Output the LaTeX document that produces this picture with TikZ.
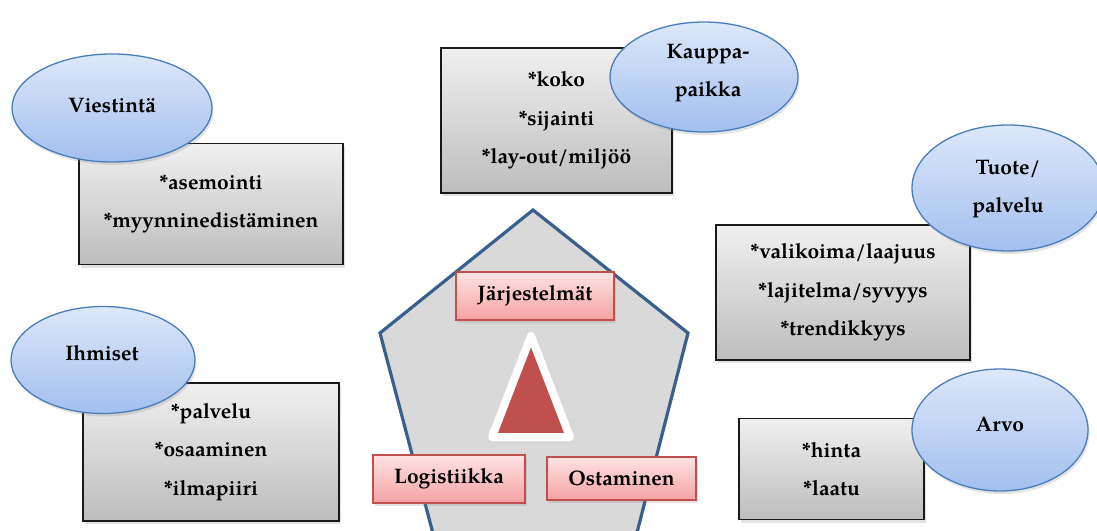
\documentclass[tikz,border=0pt]{standalone}
\usepackage{fontspec}
\setmainfont{TeX Gyre Pagella}
\usetikzlibrary{shapes.geometric,shadows}

\definecolor{ellEdge}{HTML}{4A7EBB}
\definecolor{ellTop}{HTML}{DDE8FA}
\definecolor{ellBot}{HTML}{A2BFEE}
\definecolor{boxTop}{HTML}{F0F0F0}
\definecolor{boxBot}{HTML}{BDBDBD}
\definecolor{partEdge}{HTML}{C0504D}
\definecolor{partTop}{HTML}{FFE3E3}
\definecolor{partBot}{HTML}{F4A3A2}
\definecolor{pentFill}{HTML}{D9D9D9}
\definecolor{pentEdge}{HTML}{3B5F8C}
\definecolor{triRed}{HTML}{C0504D}

\tikzset{
  txt/.style={font=\fontsize{21}{38.5}\selectfont\bfseries, align=center, text=black},
  softshadow/.style={drop shadow={opacity=0.22, shadow xshift=1.5pt, shadow yshift=-3pt}},
  idea/.style={ellipse, draw=ellEdge, line width=1.3pt, top color=ellTop,
    bottom color=ellBot, softshadow, inner sep=0pt},
  itembox/.style={rectangle, draw=black!90, line width=1.6pt, top color=boxTop,
    bottom color=boxBot, softshadow, inner sep=0pt, txt},
  part/.style={rectangle, draw=partEdge, line width=1.5pt, top color=partTop,
    bottom color=partBot, softshadow, inner sep=0pt, txt},
  pentagonal/.style={draw=pentEdge, line width=3.2pt, fill=pentFill, line join=miter},
  core/.style={draw=white, line width=8pt, fill=triRed, line join=round},
}

\begin{document}
\begin{tikzpicture}[x=1pt, y=-1pt]
  \useasboundingbox (0,0) rectangle (1097,530);
  \clip (0,0) rectangle (1097,530);

  % central pentagon
  \coordinate (p1) at (533,210);
  \coordinate (p2) at (688,333);
  \coordinate (p3) at (630,560);
  \coordinate (p4) at (440,560);
  \coordinate (p5) at (380,333);
  \draw[pentagonal] (p1) -- (p2) -- (p3) -- (p4) -- (p5) -- cycle;

  % red triangle in the middle
  \coordinate (t1) at (531,336);
  \coordinate (t2) at (492,437);
  \coordinate (t3) at (570,437);
  \draw[core, drop shadow={opacity=0.15, shadow xshift=1pt, shadow yshift=-2pt}]
    (t1) -- (t2) -- (t3) -- cycle;

  % three parts inside the pentagon
  \node[part, minimum width=158, minimum height=48] (jarj) at (535,296) {Järjestelmät};
  \node[part, minimum width=152, minimum height=48] (logi) at (449,479) {Logistiikka};
  \node[part, minimum width=149, minimum height=43] (osta) at (621.5,478.5) {Ostaminen};

  % Viestintä
  \node[itembox, minimum width=264, minimum height=121] (viesBox) at (211,204)
    {*asemointi\\*myynninedistäminen};
  \node[idea, minimum width=200, minimum height=108] (viesEll) at (112,108) {};
  \node[txt] (viesLbl) at (112,106) {Viestintä};

  % Kauppapaikka
  \node[itembox, minimum width=231, minimum height=145] (kaupBox) at (556.5,120.5)
    {*koko\\*sijainti\\*lay-out/miljöö};
  \node[idea, minimum width=188, minimum height=110] (kaupEll) at (704,77) {};
  \node[txt] (kaupLbl) at (708,73) {Kauppa-\\paikka};

  % Tuote/palvelu
  \node[itembox, minimum width=254, minimum height=135] (tuoteBox) at (843,292.5)
    {*valikoima/laajuus\\*lajitelma/syvyys\\*trendikkyys};
  \node[idea, minimum width=192, minimum height=126] (tuoteEll) at (1008,188) {};
  \node[txt] (tuoteLbl) at (1008,189) {Tuote/\\palvelu};

  % Arvo
  \node[itembox, minimum width=185, minimum height=101] (arvoBox) at (831.5,469)
    {*hinta\\*laatu};
  \node[idea, minimum width=176, minimum height=122] (arvoEll) at (1000,430) {};
  \node[txt] (arvoLbl) at (1000,424) {Arvo};

  % Ihmiset
  \node[itembox, minimum width=256, minimum height=138] (ihmBox) at (211,452)
    {*palvelu\\*osaaminen\\*ilmapiiri};
  \node[idea, minimum width=184, minimum height=107] (ihmEll) at (103,360) {};
  \node[txt] (ihmLbl) at (102,353) {Ihmiset};
\end{tikzpicture}
\end{document}
